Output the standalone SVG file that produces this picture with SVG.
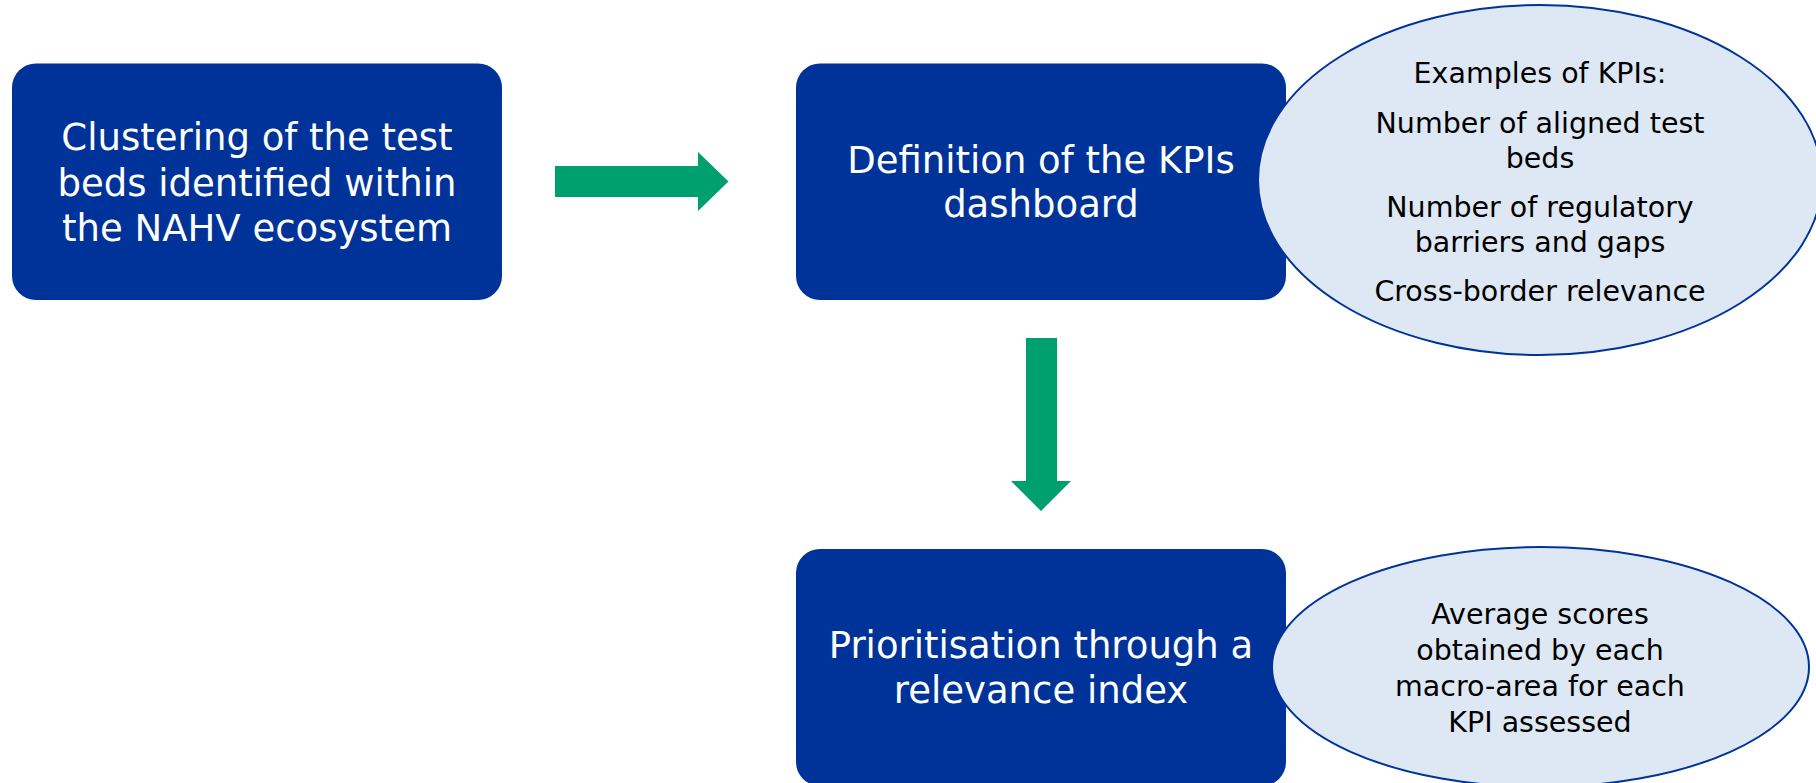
<svg xmlns="http://www.w3.org/2000/svg" width="1816" height="783" viewBox="0 0 1816 783">
<style>
.box{fill:#003399;}
.ell{fill:#DDE8F4;stroke:#003399;stroke-width:2;}
.arrow{fill:#00A06E;}
.bt{font-family:"DejaVu Sans","Liberation Sans",sans-serif;font-size:37px;fill:#FFFFFF;text-anchor:middle;}
.et{font-family:"DejaVu Sans","Liberation Sans",sans-serif;font-size:28.5px;fill:#000000;text-anchor:middle;}
</style>
<rect width="1816" height="783" fill="#FFFFFF"/>
<g id="connectors">
<polygon class="arrow" points="555,166 698,166 698,152 728.5,181.5 698,211 698,197 555,197"/>
<polygon class="arrow" points="1026,338 1057,338 1057,481 1071,481 1041,511 1011,481 1026,481"/>
</g>
<g id="node-clustering">
<rect class="box" x="12" y="63.5" width="490" height="236.5" rx="24" ry="24"/>
<text class="bt" x="257" y="150">Clustering of the test</text>
<text class="bt" x="257" y="195.5">beds identified within</text>
<text class="bt" x="257" y="241">the NAHV ecosystem</text>
</g>
<g id="node-definition">
<rect class="box" x="796" y="63.5" width="490" height="236.5" rx="24" ry="24"/>
<text class="bt" x="1041" y="173">Definition of the KPIs</text>
<text class="bt" x="1041" y="217">dashboard</text>
</g>
<g id="node-examples">
<ellipse class="ell" cx="1540" cy="180" rx="282" ry="175"/>
<text class="et" x="1540" y="83">Examples of KPIs:</text>
<text class="et" x="1540" y="132.5">Number of aligned test</text>
<text class="et" x="1540" y="167.5">beds</text>
<text class="et" x="1540" y="216.5">Number of regulatory</text>
<text class="et" x="1540" y="251.5">barriers and gaps</text>
<text class="et" x="1540" y="300.5">Cross-border relevance</text>
</g>
<g id="node-prioritisation">
<rect class="box" x="796" y="549" width="490" height="237" rx="24" ry="24"/>
<text class="bt" x="1041" y="658">Prioritisation through a</text>
<text class="bt" x="1041" y="703">relevance index</text>
</g>
<g id="node-average">
<ellipse class="ell" cx="1540.5" cy="667" rx="268.5" ry="120"/>
<text class="et" x="1540" y="624">Average scores</text>
<text class="et" x="1540" y="660">obtained by each</text>
<text class="et" x="1540" y="696">macro-area for each</text>
<text class="et" x="1540" y="732">KPI assessed</text>
</g>
</svg>
